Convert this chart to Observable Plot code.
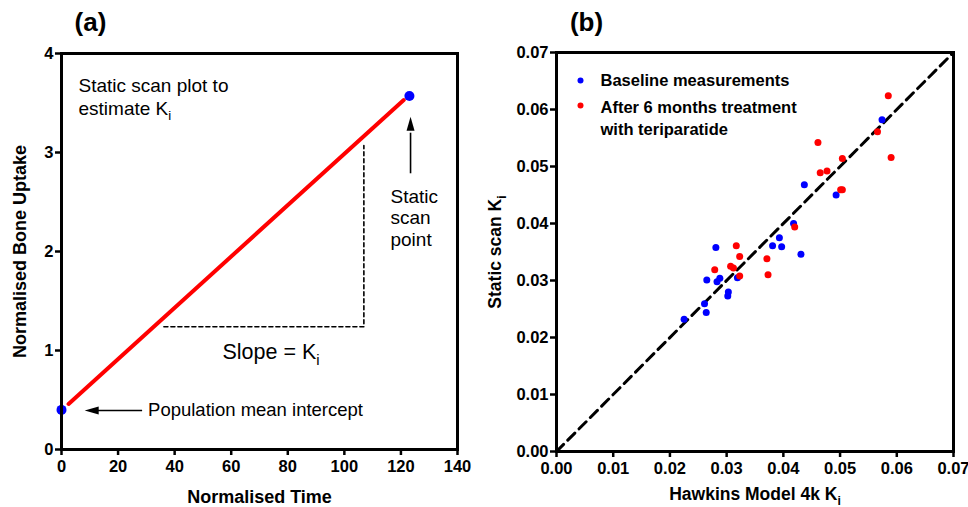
<!DOCTYPE html>
<html><head><meta charset="utf-8">
<script src="https://cdn.jsdelivr.net/npm/d3@7"></script>
<script src="https://cdn.jsdelivr.net/npm/@observablehq/plot@0.6"></script>
<style>
body{margin:0;background:#fff;font-family:"Liberation Sans",Arial,sans-serif;}
#wrap{position:relative;width:968px;height:507px;overflow:hidden;}
#a,#b{position:absolute;top:0;}
#a{left:0} #b{left:484px}
</style></head><body><div id="wrap"><div id="a"></div><div id="b"></div></div>
<script>
// ---------- Panel (a) data ----------
const timeTicks = [0, 20, 40, 60, 80, 100, 120, 140];
const uptakeTicks = [0, 1, 2, 3, 4];
const fitTime = [2.5, 121];
const fitUptake = [0.46, 3.53];
const scanTime = [0, 123];
const scanUptake = [0.40, 3.57];
const slopeTime = [36.2, 106.9, 106.9];
const slopeUptake = [1.24, 1.24, 3.07];

// ---------- Panel (b) data ----------
const kiTicks = [0, 0.01, 0.02, 0.03, 0.04, 0.05, 0.06, 0.07];
const identityKi = [0, 0.0697];
const baselineHawkins = [0.0574, 0.0437, 0.0493, 0.0418, 0.0281, 0.0393, 0.0381, 0.0397, 0.0431, 0.0265, 0.0288, 0.0283, 0.0319, 0.0303, 0.0302, 0.0261, 0.0264, 0.0225];
const baselineStatic  = [0.0582, 0.0468, 0.0450, 0.0400, 0.0358, 0.0375, 0.0361, 0.0359, 0.0346, 0.0301, 0.0304, 0.0298, 0.0305, 0.0280, 0.0273, 0.0259, 0.0244, 0.0232];
const treatedHawkins  = [0.0585, 0.0566, 0.0461, 0.0590, 0.0504, 0.0465, 0.0477, 0.0501, 0.0504, 0.0420, 0.0317, 0.0323, 0.0371, 0.0279, 0.0307, 0.0312, 0.0323, 0.0373];
const treatedStatic   = [0.0624, 0.0561, 0.0542, 0.0516, 0.0514, 0.0489, 0.0492, 0.0459, 0.0459, 0.0394, 0.0361, 0.0342, 0.0338, 0.0319, 0.0325, 0.0322, 0.0308, 0.0310];
const legendLabels = ["Baseline measurements", "After 6 months treatment\nwith teriparatide"];

const FONT = "Liberation Sans, Arial, sans-serif";
const BLUE = "#0000ff", RED = "#ff0000";
const zip = (xs, ys) => xs.map((x, i) => ({x, y: ys[i]}));

function subscripts(svg) {
  const ns = "http://www.w3.org/2000/svg";
  const walker = document.createTreeWalker(svg, NodeFilter.SHOW_TEXT);
  const nodes = [];
  while (walker.nextNode()) if (walker.currentNode.nodeValue.includes("_i")) nodes.push(walker.currentNode);
  for (const n of nodes) {
    const [before] = n.nodeValue.split("_i");
    const parent = n.parentNode;
    const sub = document.createElementNS(ns, "tspan");
    sub.setAttribute("dy", "0.38em");
    sub.setAttribute("font-size", "70%");
    sub.textContent = "i";
    parent.insertBefore(document.createTextNode(before), n);
    parent.insertBefore(sub, n);
    parent.removeChild(n);
  }
  return svg;
}

const tickStyle = {fontSize: 16.5, fontWeight: "bold", fontFamily: FONT, strokeWidth: 2.5, tickSize: 6};

// ---------- Panel (a) ----------
const plotA = Plot.plot({
  width: 484, height: 507,
  marginLeft: 61, marginRight: 27, marginTop: 53, marginBottom: 58,
  style: {fontFamily: FONT, background: "white", overflow: "visible"},
  x: {domain: [0, 140]},
  y: {domain: [0, 4]},
  marks: [
    Plot.axisX({ticks: timeTicks, tickFormat: d3.format("d"), tickPadding: 5, label: null, ...tickStyle}),
    Plot.axisY({ticks: uptakeTicks, tickFormat: d3.format("d"), tickPadding: 2, label: null, ...tickStyle}),
    Plot.line(zip(slopeTime, slopeUptake), {x: "x", y: "y", stroke: "black", strokeWidth: 1.6, strokeDasharray: "4,3"}),
    Plot.line(zip(fitTime, fitUptake), {x: "x", y: "y", stroke: RED, strokeWidth: 4}),
    Plot.dot(zip(scanTime, scanUptake), {x: "x", y: "y", r: 5, fill: BLUE, stroke: "none"}),
    // arrows
    Plot.link([0], {x1: 28.5, x2: 12, y1: 0.394, y2: 0.394, stroke: "black", strokeWidth: 1.6}),
    Plot.vector([0], {x: 8.2, y: 0.394, length: 14, rotate: -90, shape: "spike", r: 4, anchor: "end", fill: "black", stroke: "none"}),
    Plot.link([0], {x1: 123.4, x2: 123.4, y1: 2.79, y2: 3.2, stroke: "black", strokeWidth: 1.6}),
    Plot.vector([0], {x: 123.4, y: 3.36, length: 14, rotate: 0, shape: "spike", r: 4, anchor: "end", fill: "black", stroke: "none"}),
    // annotations
    Plot.text(["Static scan plot to\nestimate K_i"], {frameAnchor: "top-left", dx: 17, dy: 22, textAnchor: "start", lineAnchor: "top", lineHeight: 1.22, fontSize: 19}),
    Plot.text(["Static\nscan\npoint"], {x: 116.3, y: 2.65, textAnchor: "start", lineAnchor: "top", lineHeight: 1.14, fontSize: 19}),
    Plot.text(["Population mean intercept"], {x: 30.6, y: 0.394, textAnchor: "start", lineAnchor: "middle", fontSize: 18.5}),
    Plot.text(["Slope = K_i"], {x: 74.1, y: 0.983, textAnchor: "middle", lineAnchor: "middle", fontSize: 21.5}),
    // titles
    Plot.text(["(a)"], {frameAnchor: "top-left", dx: 29, dy: -31, textAnchor: "middle", lineAnchor: "middle", fontSize: 26, fontWeight: "bold"}),
    Plot.text(["Normalised Time"], {frameAnchor: "bottom", dy: 47.7, textAnchor: "middle", lineAnchor: "middle", fontSize: 18, fontWeight: "bold"}),
    Plot.text(["Normalised Bone Uptake"], {frameAnchor: "left", dx: -41, rotate: -90, textAnchor: "middle", lineAnchor: "middle", fontSize: 18, fontWeight: "bold"}),
    Plot.frame({stroke: "black", strokeWidth: 3})
  ]
});
document.getElementById("a").append(subscripts(plotA));

// ---------- Panel (b) ----------
const plotB = Plot.plot({
  width: 484, height: 507,
  marginLeft: 72, marginRight: 15, marginTop: 52, marginBottom: 56,
  style: {fontFamily: FONT, background: "white", overflow: "visible"},
  x: {domain: [0, 0.07]},
  y: {domain: [0, 0.07]},
  marks: [
    Plot.axisX({ticks: kiTicks, tickFormat: d3.format(".2f"), tickPadding: 5, label: null, ...tickStyle}),
    Plot.axisY({ticks: kiTicks, tickFormat: d3.format(".2f"), tickPadding: 2, label: null, ...tickStyle}),
    Plot.line(zip(identityKi, identityKi), {x: "x", y: "y", stroke: "black", strokeWidth: 3, strokeDasharray: "10,6"}),
    Plot.dot(zip(baselineHawkins, baselineStatic), {x: "x", y: "y", r: 3.5, fill: BLUE, stroke: "none"}),
    Plot.dot(zip(treatedHawkins, treatedStatic), {x: "x", y: "y", r: 3.5, fill: RED, stroke: "none"}),
    // legend
    Plot.dot([BLUE], {frameAnchor: "top-left", dx: 24, dy: 28, r: 3, fill: d => d, stroke: "none"}),
    Plot.dot([RED], {frameAnchor: "top-left", dx: 24, dy: 53, r: 3, fill: d => d, stroke: "none"}),
    Plot.text([legendLabels[0]], {frameAnchor: "top-left", dx: 44, dy: 22, textAnchor: "start", lineAnchor: "top", fontSize: 16.5, fontWeight: "bold"}),
    Plot.text([legendLabels[1]], {frameAnchor: "top-left", dx: 44, dy: 45, textAnchor: "start", lineAnchor: "top", lineHeight: 1.33, fontSize: 16.5, fontWeight: "bold"}),
    // titles
    Plot.text(["(b)"], {frameAnchor: "top-left", dx: 30, dy: -30, textAnchor: "middle", lineAnchor: "middle", fontSize: 26, fontWeight: "bold"}),
    Plot.text(["Hawkins Model 4k K_i"], {frameAnchor: "bottom", dy: 43, textAnchor: "middle", lineAnchor: "middle", fontSize: 17.5, fontWeight: "bold"}),
    Plot.text(["Static scan K_i"], {frameAnchor: "left", dx: -61, rotate: -90, textAnchor: "middle", lineAnchor: "middle", fontSize: 17.5, fontWeight: "bold"}),
    Plot.frame({stroke: "black", strokeWidth: 3})
  ]
});
document.getElementById("b").append(subscripts(plotB));
</script></body></html>
